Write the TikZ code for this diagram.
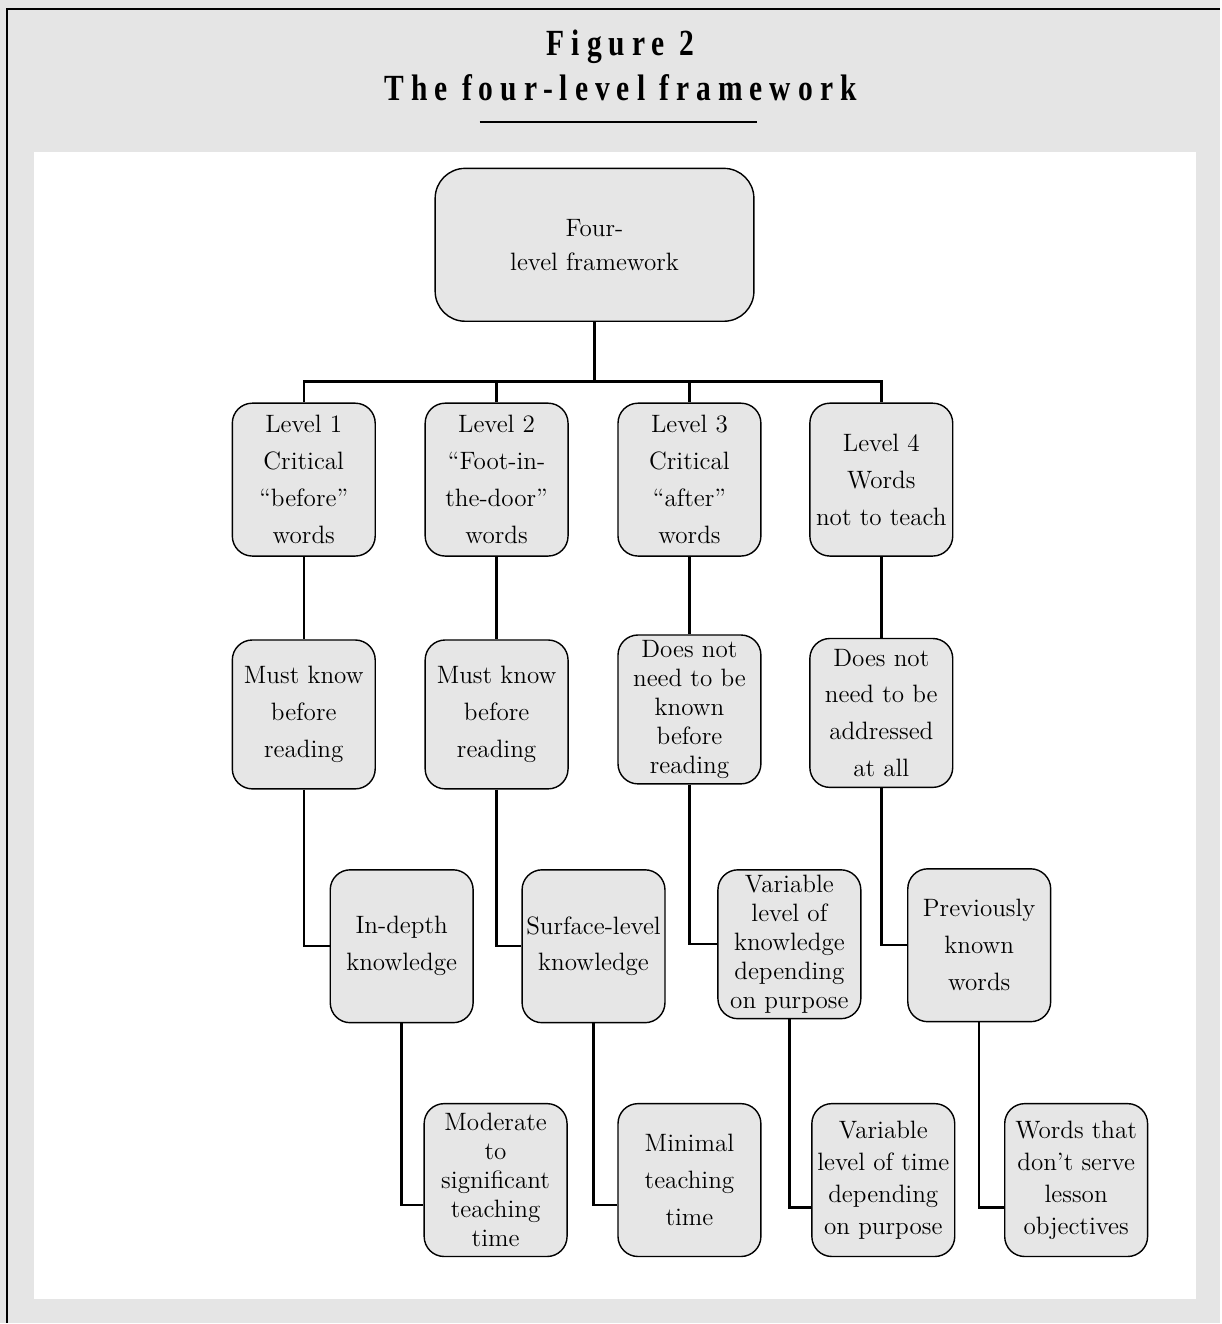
\documentclass[tikz,border=0pt]{standalone}
\usepackage{fontspec}
\newfontfamily\titlefont[LetterSpace=19, FakeStretch=0.8]{Liberation Serif}
\definecolor{panelgray}{RGB}{229,229,229}
\definecolor{boxgray}{RGB}{230,230,230}
\tikzset{
	stagebox/.style={draw, line width=0.8pt, fill=boxgray, rounded corners=0.4cm,
		minimum width=2.86cm, minimum height=3.06cm, align=center, inner sep=1pt,
		font=\fontsize{14.3}{21}\selectfont},
	spread/.style={font=\fontsize{14.3}{#1}\selectfont},
	link/.style={line width=1.4pt}
}
\begin{document}
\begin{tikzpicture}
		% background, frame and white panel
		\fill[panelgray] (0, 0) rectangle (24.42, -26.48);
		\draw[line width=1.2pt] (24.42, -0.18) -- (0.14, -0.18) -- (0.14, -26.48);
		\fill[white] (0.68, -3.04) rectangle (23.94, -26.0);
		% title
		\node[font=\titlefont\bfseries\fontsize{21}{22}\selectfont] (fig) at (12.42, -0.94) {Figure 2};
		\node[font=\titlefont\bfseries\fontsize{21}{22}\selectfont] (ttl) at (12.42, -1.76) {The four-level framework};
		\draw[line width=1pt] (9.6, -2.44) -- (15.16, -2.44);
		% root
		\node[stagebox, minimum width=6.38cm, rounded corners=0.6cm, spread=19.5] (root) at (11.9, -4.9) {Four-\\level framework};
		\coordinate (bar) at (11.9, -7.64);
		% levels
		\node[stagebox] (lev1) at (6.08, -9.6) {Level 1\\Critical\\``before''\\words};
		\node[stagebox] (lev2) at (9.94, -9.6) {Level 2\\``Foot-in-\\the-door''\\words};
		\node[stagebox] (lev3) at (13.8, -9.6) {Level 3\\Critical\\``after''\\words};
		\node[stagebox] (lev4) at (17.64, -9.6) {Level 4\\Words\\not to teach};
		% when to know
		\node[stagebox, minimum height=2.98cm] (know1) at (6.08, -14.3) {Must know\\before\\reading};
		\node[stagebox, minimum height=2.98cm] (know2) at (9.94, -14.3) {Must know\\before\\reading};
		\node[stagebox, minimum height=2.98cm, spread=16.5] (know3) at (13.8, -14.2) {Does not\\need to be\\known\\before\\reading};
		\node[stagebox, minimum height=2.98cm] (know4) at (17.64, -14.27) {Does not\\need to be\\addressed\\at all};
		% depth of knowledge
		\node[stagebox] (depth1) at (8.04, -18.94) {In-depth\\knowledge};
		\node[stagebox] (depth2) at (11.88, -18.94) {Surface-level\\knowledge};
		\node[stagebox, minimum height=2.98cm, spread=16.5] (depth3) at (15.8, -18.9) {Variable\\level of\\knowledge\\depending\\on purpose};
		\node[stagebox] (depth4) at (19.6, -18.92) {Previously\\known\\words};
		% teaching time
		\node[stagebox, spread=16.5] (time1) at (9.92, -23.62) {Moderate\\to\\significant\\teaching\\time};
		\node[stagebox] (time2) at (13.8, -23.62) {Minimal\\teaching\\time};
		\node[stagebox, spread=18.2] (time3) at (17.68, -23.62) {Variable\\level of time\\depending\\on purpose};
		\node[stagebox, spread=18.2] (time4) at (21.54, -23.62) {Words that\\don't serve\\lesson\\objectives};
		% connectors
		\draw[link] (root) -- (bar);
		\draw[link] (bar) -| (lev1);
		\draw[link] (bar) -| (lev2);
		\draw[link] (bar) -| (lev3);
		\draw[link] (bar) -| (lev4);
		\draw[link] (lev1) -- (know1);
		\draw[link] (lev2) -- (know2);
		\draw[link] (lev3) -- (know3);
		\draw[link] (lev4) -- (know4);
		\draw[link] (know1) |- (depth1);
		\draw[link] (know2) |- (depth2);
		\draw[link] (know3) |- (depth3);
		\draw[link] (know4) |- (depth4);
		\draw[link] (depth1) |- ([yshift=-0.5cm]time1.west);
		\draw[link] (depth2) |- ([yshift=-0.5cm]time2.west);
		\draw[link] (depth3) |- ([yshift=-0.55cm]time3.west);
		\draw[link] (depth4) |- ([yshift=-0.55cm]time4.west);
	\end{tikzpicture}
\end{document}
